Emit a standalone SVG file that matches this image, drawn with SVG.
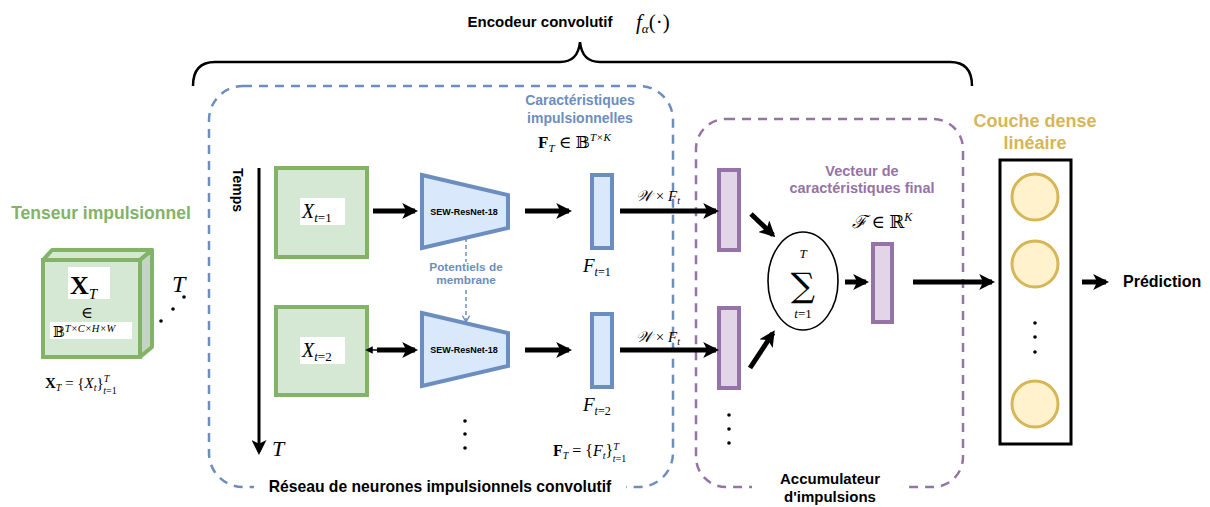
<svg xmlns="http://www.w3.org/2000/svg" width="1210" height="507" viewBox="0 0 1210 507">
<style>
.b{font-family:"Liberation Sans",Arial,sans-serif;font-weight:bold}
.m{font-family:"Liberation Serif","DejaVu Serif",serif;font-style:italic}
.mr{font-family:"Liberation Serif","DejaVu Serif",serif}
.gbox{fill:#d5e8d4;stroke:#82b366;stroke-width:4}
.trap{fill:#dae8fc;stroke:#6c8ebf;stroke-width:4}
.fb{fill:#dae8fc;stroke:#6c8ebf;stroke-width:4}
.pb{fill:#e1d5e7;stroke:#9673a6;stroke-width:4}
.neu{fill:#fff2cc;stroke:#d6b656;stroke-width:3}
.arr{stroke:#000;stroke-width:5;fill:none;marker-end:url(#ah)}
</style>
<defs>
<marker id="ah" viewBox="0 0 10 10" refX="8" refY="5" markerWidth="3.2" markerHeight="3.2" orient="auto" markerUnits="strokeWidth">
<path d="M0,0 L10,5 L0,10 L2.5,5 Z" fill="#000"/>
</marker>
<marker id="ahs" viewBox="0 0 10 10" refX="8" refY="5" markerWidth="5" markerHeight="5" orient="auto" markerUnits="strokeWidth">
<path d="M0,0 L10,5 L0,10 L2.5,5 Z" fill="#000"/>
</marker>
<marker id="ahb" viewBox="0 0 10 10" refX="8" refY="5" markerWidth="6" markerHeight="6" orient="auto" markerUnits="strokeWidth">
<path d="M1,1 L8,5 L1,9" fill="none" stroke="#6c8ebf" stroke-width="1.5"/>
</marker>
<marker id="ahl" viewBox="0 0 10 10" refX="5" refY="5" markerWidth="5" markerHeight="5" orient="auto" markerUnits="strokeWidth">
<path d="M0,0 L10,5 L0,10 Z" fill="#000"/>
</marker>
</defs>
<rect width="1210" height="507" fill="#fff"/>

<!-- Title and brace -->
<g id="encoder-title">
<text x="540" y="27" class="b" font-size="15" text-anchor="middle">Encodeur convolutif</text>
<text x="636" y="29" class="m" font-size="21">f<tspan font-size="13" dy="4">α</tspan><tspan class="mr" font-style="normal" dy="-4">(·)</tspan></text>
<path d="M193,86 Q193,62 215,62 L560,62 Q578,62 580,42 Q582,62 600,62 L950,62 Q972,62 972,86" fill="none" stroke="#000" stroke-width="2.5"/>
</g>

<!-- Group boxes -->
<g id="snn-group">
<rect x="209" y="86" width="464" height="401" rx="34" fill="none" stroke="#6c8ebf" stroke-width="2.5" stroke-dasharray="9,7"/>
<rect x="254" y="476" width="372" height="20" fill="#fff"/>
<text x="440" y="492" class="b" font-size="15.7" text-anchor="middle">Réseau de neurones impulsionnels convolutif</text>
</g>
<g id="acc-group">
<rect x="696" y="119" width="267" height="368" rx="30" fill="none" stroke="#9673a6" stroke-width="2.5" stroke-dasharray="9,7"/>
<rect x="752" y="470" width="150" height="37" fill="#fff"/>
<text x="830" y="484" class="b" font-size="15" text-anchor="middle">Accumulateur</text>
<text x="830" y="502" class="b" font-size="15" text-anchor="middle">d'impulsions</text>
</g>

<!-- Input tensor -->
<g id="tensor">
<text x="101" y="219" class="b" font-size="17.5" fill="#82b366" text-anchor="middle">Tenseur impulsionnel</text>
<path d="M43,260 L52,250 L152,250 L140,260 Z" fill="#d5e8d4" stroke="#82b366" stroke-width="4" stroke-linejoin="round"/>
<path d="M140,260 L152,250 L152,347 L140,357 Z" fill="#c4d6c3" stroke="#82b366" stroke-width="4" stroke-linejoin="round"/>
<rect x="43" y="260" width="97" height="97" class="gbox" stroke-width="5"/>
<rect x="68" y="267" width="42" height="32" fill="#fff"/>
<text x="70" y="294" class="mr" font-size="26" font-weight="bold">X<tspan class="m" font-weight="normal" font-size="15" dy="5">T</tspan></text>
<text x="87" y="318" class="mr" font-size="16" text-anchor="middle">∈</text>
<rect x="50" y="322" width="82" height="17" fill="#fff"/>
<text x="53" y="337" class="mr" font-size="14">𝔹<tspan class="m" font-size="10.5" dy="-5">T×C×H×W</tspan></text>
<text x="172" y="292" class="m" font-size="24">T</text>
<circle cx="161" cy="321" r="1.8"/><circle cx="173" cy="309" r="1.8"/><circle cx="184" cy="297" r="1.8"/>
<text x="45" y="388" class="mr" font-size="15"><tspan font-weight="bold">X</tspan><tspan class="m" font-size="10" dy="3">T</tspan><tspan dy="-3"> = {</tspan><tspan class="m">X</tspan><tspan class="m" font-size="10" dy="3">t</tspan><tspan dy="-3">}</tspan><tspan class="m" font-size="10" dy="-6">T</tspan><tspan class="m" font-size="10" dx="-6" dy="12">t</tspan><tspan font-size="10">=1</tspan></text>
</g>

<!-- Time axis -->
<g id="time-axis">
<text transform="translate(233,168) rotate(90)" class="b" font-size="14">Temps</text>
<line x1="259" y1="168" x2="259" y2="452" stroke="#000" stroke-width="3" marker-end="url(#ahs)"/>
<text x="272" y="456" class="m" font-size="22">T</text>
</g>

<!-- Frames -->
<g id="frame1">
<rect x="276" y="168" width="91" height="89" class="gbox"/>
<rect x="300" y="198" width="45" height="27" fill="#fff"/>
<text x="302" y="218" class="m" font-size="20">X<tspan font-size="13" dy="4">t</tspan><tspan class="mr" font-style="normal" font-size="13">=1</tspan></text>
</g>
<g id="frame2">
<rect x="276" y="307" width="91" height="88" class="gbox"/>
<rect x="300" y="337" width="45" height="27" fill="#fff"/>
<text x="302" y="357" class="m" font-size="20">X<tspan font-size="13" dy="4">t</tspan><tspan class="mr" font-style="normal" font-size="13">=2</tspan></text>
</g>

<!-- Encoders -->
<g id="sew1">
<path d="M422,175 L508,195 L508,228 L422,248 Z" class="trap"/>
<text x="464" y="215" class="b" font-size="9" text-anchor="middle">SEW-ResNet-18</text>
</g>
<g id="sew2">
<path d="M422,313 L508,333 L508,366 L422,386 Z" class="trap"/>
<text x="464" y="353" class="b" font-size="9" text-anchor="middle">SEW-ResNet-18</text>
</g>
<g id="membrane-label">
<text x="466" y="271" class="b" font-size="11.8" fill="#6c8ebf" text-anchor="middle">Potentiels de</text>
<text x="466" y="284" class="b" font-size="11.8" fill="#6c8ebf" text-anchor="middle">membrane</text>
</g>
<g id="dots-mid">
<circle cx="465" cy="421" r="1.8"/><circle cx="465" cy="434" r="1.8"/><circle cx="465" cy="448" r="1.8"/>
</g>

<!-- Spike features -->
<g id="feat-label">
<text x="580" y="105" class="b" font-size="14" fill="#6c8ebf" text-anchor="middle">Caractéristiques</text>
<text x="580" y="123" class="b" font-size="14" fill="#6c8ebf" text-anchor="middle">impulsionnelles</text>
<text x="538" y="148" class="mr" font-size="17"><tspan font-weight="bold">F</tspan><tspan class="m" font-size="11" dy="4">T</tspan><tspan dy="-4"> ∈ 𝔹</tspan><tspan class="m" font-size="11" dy="-7">T×K</tspan></text>
</g>
<g id="F1">
<rect x="592" y="175" width="20" height="73" class="fb"/>
<text x="583" y="272" class="m" font-size="19">F<tspan font-size="12" dy="4">t</tspan><tspan class="mr" font-style="normal" font-size="12">=1</tspan></text>
</g>
<g id="F2">
<rect x="592" y="314" width="20" height="73" class="fb"/>
<text x="583" y="411" class="m" font-size="19">F<tspan font-size="12" dy="4">t</tspan><tspan class="mr" font-style="normal" font-size="12">=2</tspan></text>
</g>
<g id="FT-set">
<text x="553" y="456" class="mr" font-size="16"><tspan font-weight="bold">F</tspan><tspan class="m" font-size="10" dy="3">T</tspan><tspan dy="-3"> = {</tspan><tspan class="m">F</tspan><tspan class="m" font-size="10" dy="3">t</tspan><tspan dy="-3">}</tspan><tspan class="m" font-size="10" dy="-6">T</tspan><tspan class="m" font-size="10" dx="-6" dy="12">t</tspan><tspan font-size="10">=1</tspan></text>
</g>

<!-- Accumulator -->
<g id="P1"><rect x="719" y="170" width="20" height="80" class="pb"/></g>
<g id="P2"><rect x="719" y="308" width="20" height="80" class="pb"/></g>
<g id="dots-acc">
<circle cx="729" cy="415" r="1.8"/><circle cx="729" cy="429" r="1.8"/><circle cx="729" cy="443" r="1.8"/>
</g>
<g id="sum">
<ellipse cx="803" cy="281" rx="35" ry="49" fill="#fff" stroke="#000" stroke-width="1.6"/>
<text x="803" y="258" class="m" font-size="13" text-anchor="middle">T</text>
<text x="803" y="297" font-family="'DejaVu Serif',serif" font-size="34" text-anchor="middle">∑</text>
<text x="803" y="318" class="mr" font-size="13" text-anchor="middle"><tspan class="m">t</tspan>=1</text>
</g>
<g id="final-label">
<text x="862" y="176" class="b" font-size="14.5" fill="#9673a6" text-anchor="middle">Vecteur de</text>
<text x="862" y="193" class="b" font-size="14.5" fill="#9673a6" text-anchor="middle">caractéristiques final</text>
<text x="852" y="228" class="mr" font-size="18"><tspan class="m">ℱ</tspan> ∈ ℝ<tspan class="m" font-size="12" dy="-7">K</tspan></text>
</g>
<g id="final-vec"><rect x="873" y="244" width="19" height="78" class="pb"/></g>

<!-- Dense layer -->
<g id="dense">
<text x="1035" y="127" class="b" font-size="18" fill="#d6b656" text-anchor="middle">Couche dense</text>
<text x="1035" y="149" class="b" font-size="18" fill="#d6b656" text-anchor="middle">linéaire</text>
<rect x="1000" y="160" width="71" height="284" fill="#fff" stroke="#000" stroke-width="3"/>
<circle cx="1035" cy="197" r="23" class="neu"/>
<circle cx="1035" cy="264" r="23" class="neu"/>
<circle cx="1035" cy="404" r="23" class="neu"/>
<circle cx="1035" cy="323" r="1.8"/><circle cx="1035" cy="337" r="1.8"/><circle cx="1035" cy="352" r="1.8"/>
</g>
<g id="prediction">
<text x="1123" y="287" class="b" font-size="16">Prédiction</text>
</g>

<!-- Connectors -->
<g id="connectors">
<line x1="373" y1="211" x2="415" y2="211" class="arr"/>
<line x1="377" y1="350" x2="415" y2="350" class="arr"/>
<line x1="377" y1="350" x2="369" y2="350" stroke="#000" stroke-width="1.5" marker-end="url(#ahl)"/>
<line x1="525" y1="211" x2="569" y2="211" class="arr"/>
<line x1="525" y1="350" x2="569" y2="350" class="arr"/>
<line x1="620" y1="211" x2="716" y2="211" class="arr"/>
<line x1="620" y1="350" x2="716" y2="350" class="arr"/>
<text x="636" y="201" class="m" font-size="15">𝒲 <tspan class="mr" font-style="normal">×</tspan> F<tspan font-size="10" dy="3">t</tspan></text>
<text x="636" y="342" class="m" font-size="15">𝒲 <tspan class="mr" font-style="normal">×</tspan> F<tspan font-size="10" dy="3">t</tspan></text>
<line x1="751" y1="214" x2="773" y2="235" class="arr"/>
<line x1="750" y1="368" x2="773" y2="333" class="arr"/>
<line x1="845" y1="282" x2="866" y2="282" class="arr"/>
<line x1="913" y1="282" x2="992" y2="282" class="arr"/>
<line x1="1082" y1="282" x2="1106" y2="282" class="arr"/>
<line x1="466" y1="238" x2="466" y2="262" stroke="#6c8ebf" stroke-width="1.5" stroke-dasharray="4,3"/>
<line x1="466" y1="290" x2="466" y2="322" stroke="#6c8ebf" stroke-width="1.5" stroke-dasharray="4,3" marker-end="url(#ahb)"/>
</g>
</svg>
